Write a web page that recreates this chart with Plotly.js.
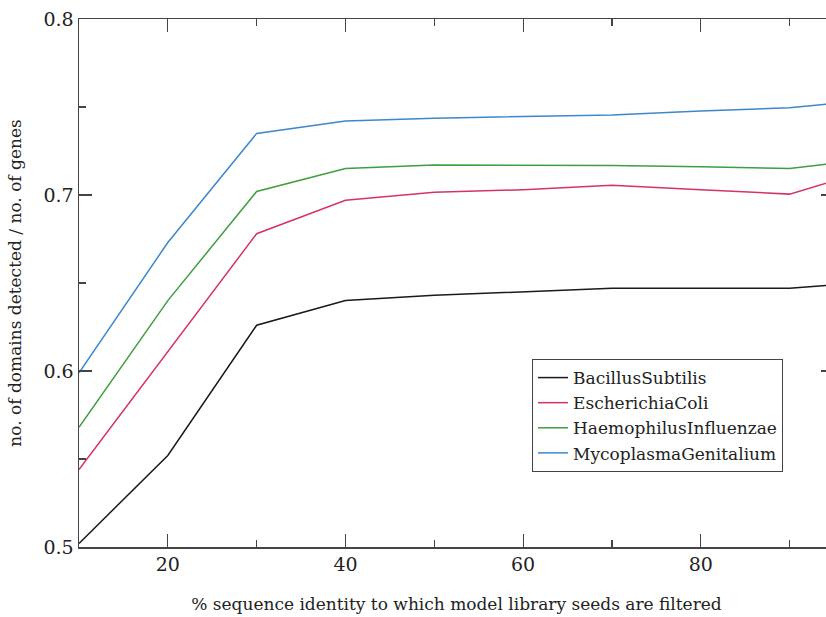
<!DOCTYPE html>
<html>
<head>
<meta charset="utf-8">
<script src="https://cdn.plot.ly/plotly-3.0.1.min.js"></script>
<style>
  html, body { margin: 0; padding: 0; background: #fff; overflow: hidden; }
  #chart { width: 834px; height: 617px; }
</style>
</head>
<body>
<div id="chart"></div>
<script>
// % sequence identity at which the model library seeds were filtered
const identity = [10, 20, 30, 40, 50, 60, 70, 80, 90, 95];

// fraction of genes with a detected domain, per genome
const bacillusSubtilis      = [0.502, 0.552, 0.626, 0.640, 0.643, 0.645, 0.647, 0.647, 0.647, 0.649];
const escherichiaColi       = [0.544, 0.611, 0.678, 0.697, 0.7015, 0.703, 0.7055, 0.703, 0.7005, 0.708];
const haemophilusInfluenzae = [0.568, 0.640, 0.702, 0.715, 0.717, 0.717, 0.7167, 0.716, 0.715, 0.718];
const mycoplasmaGenitalium  = [0.599, 0.673, 0.735, 0.742, 0.7436, 0.7445, 0.7455, 0.7477, 0.7496, 0.752];

const seriesNames = ["BacillusSubtilis", "EscherichiaColi", "HaemophilusInfluenzae", "MycoplasmaGenitalium"];
const seriesValues = [bacillusSubtilis, escherichiaColi, haemophilusInfluenzae, mycoplasmaGenitalium];
const seriesColors = ["#1a1a1a", "#d4336a", "#3f9e3f", "#3d88cc"];

const xTickVals = [20, 40, 60, 80];
const xMinorVals = [30, 50, 70, 90];
const yTickVals = [0.5, 0.6, 0.7, 0.8];
const yTickText = ["0.5", "0.6", "0.7", "0.8"];
const yMinorVals = [0.55, 0.65, 0.75];

const serif = "DejaVu Serif";
const axisColor = "#444";

const traces = seriesNames.map((name, i) => ({
  type: "scatter",
  mode: "lines",
  name: name,
  x: identity,
  y: seriesValues[i],
  line: { color: seriesColors[i], width: 1.5 }
}));

const layout = {
  width: 834,
  height: 617,
  margin: { l: 79, r: 0, t: 19, b: 70 },
  paper_bgcolor: "#fff",
  plot_bgcolor: "#fff",
  font: { family: serif, color: "#222", size: 18 },
  showlegend: true,
  legend: {
    x: 0.6, y: 0.356, xanchor: "left", yanchor: "top",
    bgcolor: "#fff",
    bordercolor: "#444",
    borderwidth: 1,
    font: { family: serif, size: 17, color: "#222" },
    tracegroupgap: 0
  },
  xaxis: {
    range: [10, 95],
    showgrid: false,
    zeroline: false,
    showline: true,
    linecolor: axisColor,
    linewidth: 1.5,
    mirror: "allticks",
    ticks: "inside",
    ticklen: 13,
    tickwidth: 1.2,
    tickcolor: axisColor,
    tickmode: "array",
    tickvals: xTickVals,
    tickfont: { family: serif, size: 19, color: "#222" },
    minor: { tickmode: "array", tickvals: xMinorVals, ticks: "inside", ticklen: 7, tickwidth: 1.2, tickcolor: axisColor },
    title: {
      text: "% sequence identity to which model library seeds are filtered",
      font: { family: serif, size: 17, color: "#222" },
      standoff: 24
    }
  },
  yaxis: {
    range: [0.5, 0.8],
    showgrid: false,
    zeroline: false,
    showline: true,
    linecolor: axisColor,
    linewidth: 1.5,
    mirror: "allticks",
    ticks: "inside",
    ticklen: 13,
    tickwidth: 1.2,
    tickcolor: axisColor,
    tickmode: "array",
    tickvals: yTickVals,
    ticktext: yTickText,
    tickfont: { family: serif, size: 19, color: "#222" },
    minor: { tickmode: "array", tickvals: yMinorVals, ticks: "inside", ticklen: 7, tickwidth: 1.2, tickcolor: axisColor },
    title: {
      text: "no. of domains detected / no. of genes",
      font: { family: serif, size: 17, color: "#222" },
      standoff: 17
    }
  }
};

Plotly.newPlot("chart", traces, layout, { displayModeBar: false, staticPlot: true });
</script>
</body>
</html>
